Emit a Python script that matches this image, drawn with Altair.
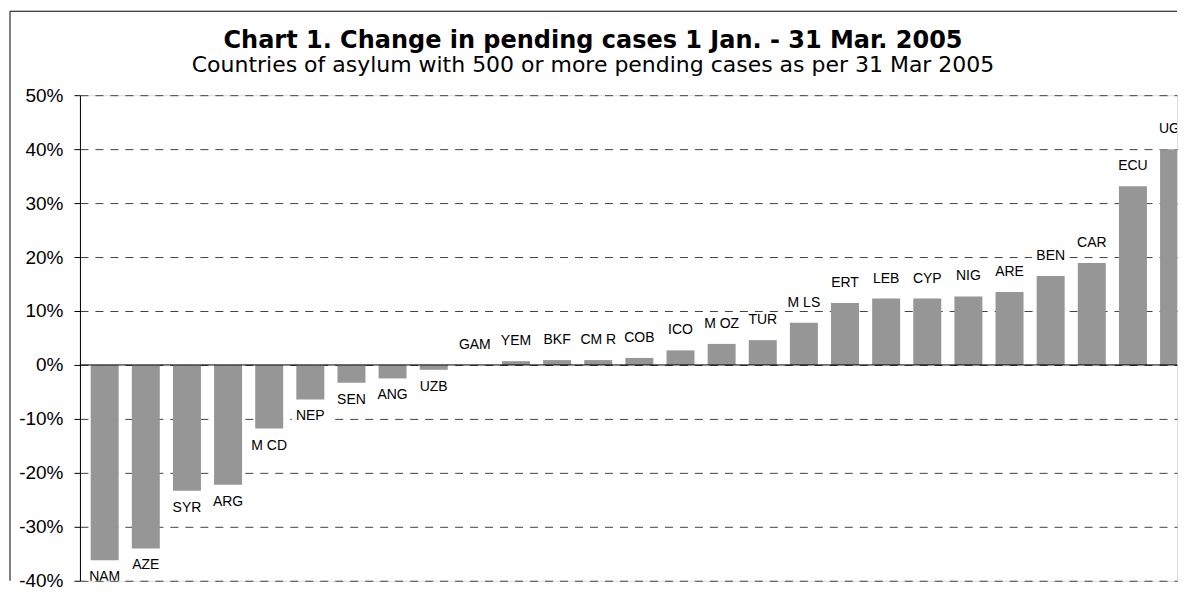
import altair as alt
import pandas as pd

codes = ["NAM", "AZE", "SYR", "ARG", "MCD", "NEP", "SEN", "ANG", "UZB", "GAM",
         "YEM", "BKF", "CMR", "COB", "ICO", "MOZ", "TUR", "MLS", "ERT", "LEB",
         "CYP", "NIG", "ARE", "BEN", "CAR", "ECU", "UGA"]
labels = ["NAM", "AZE", "SYR", "ARG", "M CD", "NEP", "SEN", "ANG", "UZB", "GAM",
          "YEM", "BKF", "CM R", "COB", "ICO", "M OZ", "TUR", "M LS", "ERT", "LEB",
          "CYP", "NIG", "ARE", "BEN", "CAR", "ECU", "UGA"]
change_pct = [-36.2, -34.0, -23.3, -22.2, -11.8, -6.4, -3.3, -2.5, -0.9, 0.0,
              0.7, 0.9, 0.9, 1.3, 2.7, 3.9, 4.6, 7.8, 11.5, 12.3,
              12.3, 12.7, 13.5, 16.5, 18.9, 33.1, 40.0]
y_ticks = [-40, -30, -20, -10, 0, 10, 20, 30, 40, 50]

TITLE = "Chart 1. Change in pending cases 1 Jan. - 31 Mar. 2005"
SUBTITLE = "Countries of asylum with 500 or more pending cases as per 31 Mar 2005"

df = pd.DataFrame({"code": codes, "label": labels, "value": change_pct})

W = 1098
H = 486
FONT = "Liberation Sans"

x_scale = alt.Scale(domain=[-0.48, 25.95], nice=False, zero=False)
y_scale = alt.Scale(domain=[-40, 50], nice=False, zero=False)

base = alt.Chart(df).transform_window(
    row="row_number()"
).transform_calculate(
    idx="datum.row - 1",
    lab="datum.value >= 0 ? datum.value + 3.7 : datum.value - 3.15",
).transform_calculate(
    bx1="datum.idx - 0.45",
    bx2="datum.idx + 0.45",
    by1="datum.lab - 1.45",
    by2="datum.lab + 1.45",
)

bars = base.mark_bar(color="#969696", size=28, clip=True).encode(
    x=alt.X("idx:Q", scale=x_scale, axis=None),
    y=alt.Y("value:Q", scale=y_scale,
            axis=alt.Axis(values=y_ticks, labelExpr="datum.value + '%'", title=None,
                          grid=True, gridColor="#404040", gridDash=[8, 7], gridWidth=1,
                          domainColor="#000000", tickColor="#000000", tickSize=6,
                          labelFontSize=19, labelFont=FONT, labelColor="#000000",
                          labelPadding=11)),
    y2=alt.datum(0),
)

boxes = base.mark_rect(color="white", opacity=1, clip=True).encode(
    x=alt.X("bx1:Q", scale=x_scale),
    x2="bx2:Q",
    y=alt.Y("by1:Q", scale=y_scale),
    y2="by2:Q",
)

texts = base.mark_text(fontSize=14, font=FONT, color="#000000", baseline="middle",
                       align="center", clip=True).encode(
    x=alt.X("idx:Q", scale=x_scale),
    y=alt.Y("lab:Q", scale=y_scale),
    text="label:N",
)

zero_rule = alt.Chart(pd.DataFrame({"z": [0]})).mark_rule(color="#000000", strokeWidth=1).encode(
    y=alt.Y("z:Q", scale=y_scale),
    x=alt.value(0),
    x2=alt.value(W),
)

one = pd.DataFrame({"t": [TITLE], "s": [SUBTITLE]})

title_txt = alt.Chart(one).mark_text(fontSize=24, font="DejaVu Sans", fontWeight="bold",
                                     color="#000000", align="center",
                                     baseline="alphabetic").encode(
    x=alt.value(513.5), y=alt.value(-47.5), text="t:N")

sub_txt = alt.Chart(one).mark_text(fontSize=22, font="DejaVu Sans",
                                   color="#000000", align="center",
                                   baseline="alphabetic").encode(
    x=alt.value(513.5), y=alt.value(-23.5), text="s:N")

border_top = alt.Chart(one).mark_rule(color="#000000", strokeWidth=1).encode(
    x=alt.value(-70), x2=alt.value(W), y=alt.value(-84))
border_left = alt.Chart(one).mark_rule(color="#000000", strokeWidth=1).encode(
    x=alt.value(-70), y=alt.value(-84), y2=alt.value(H))

chart = alt.layer(
    bars, zero_rule, boxes, texts, title_txt, sub_txt, border_top, border_left
).properties(
    width=W, height=H,
    padding={"left": 1, "top": 2, "right": 0, "bottom": 0},
).configure_view(stroke=None).configure(background="white")

chart.save("out.html", embed_options={"renderer": "svg", "actions": False})
